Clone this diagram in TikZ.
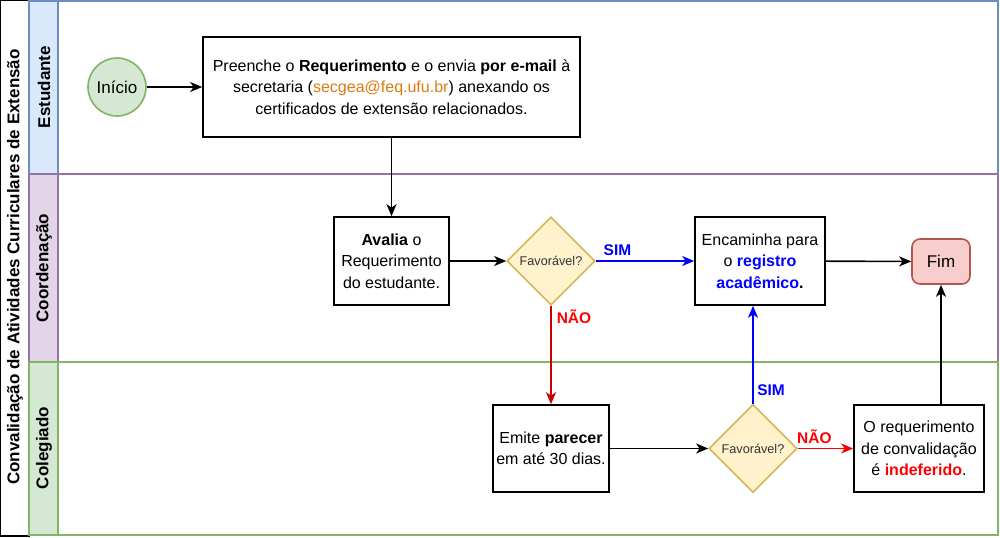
\documentclass[tikz,border=0pt]{standalone}
\usepackage{fontspec}
\setmainfont{Liberation Sans}
\usetikzlibrary{arrows.meta,shapes.geometric}
\definecolor{bluefill}{HTML}{DAE8FC}
\definecolor{bluestroke}{HTML}{6C8EBF}
\definecolor{purplefill}{HTML}{E1D5E7}
\definecolor{purplestroke}{HTML}{9673A6}
\definecolor{greenfill}{HTML}{D5E8D4}
\definecolor{greenstroke}{HTML}{82B366}
\definecolor{redfill}{HTML}{F8CECC}
\definecolor{redstroke}{HTML}{B85450}
\definecolor{yelfill}{HTML}{FFF2CC}
\definecolor{yelstroke}{HTML}{D6B656}
\definecolor{mailorange}{HTML}{E07B12}
\definecolor{darkred}{HTML}{CC0000}
\definecolor{pureblue}{HTML}{0000FF}
\definecolor{purered}{HTML}{FF0000}
\tikzset{
  bodyfont/.style={font=\fontsize{12}{16.1}\selectfont},
  procbox/.style={draw=black, fill=white, line width=1.2pt, align=center, inner sep=2pt, bodyfont},
  decision/.style={diamond, aspect=1, draw=yelstroke, fill=yelfill, line width=1.2pt, inner sep=0pt,
     minimum width=66pt, minimum height=66pt, font=\fontsize{9.5}{11}\selectfont, text=black!80},
  lanehead/.style={line width=1.2pt},
  lanelabel/.style={rotate=90, font=\fontsize{12.75}{15}\selectfont\bfseries},
  conn/.style={line width=1.2pt, -{Stealth[length=9pt, width=7.5pt, inset=2.5pt]}},
  edgelabel/.style={font=\fontsize{11.6}{13}\selectfont\bfseries},
}
\begin{document}
\begin{tikzpicture}[x=0.75pt, y=-0.75pt]
\useasboundingbox (0,0) rectangle (1000,537);
% title column
\draw[line width=1.2pt, fill=white] (0.6,0.6) rectangle (29,536);
\node[lanelabel] (title) at (15,267) {Convalidação de Atividades Curriculares de Extensão};
% lanes
\draw[lanehead, draw=bluestroke, fill=white] (58,1) rectangle (998,174);
\draw[lanehead, draw=bluestroke, fill=bluefill] (29,1) rectangle (58,174);
\draw[lanehead, draw=purplestroke, fill=white] (58,174) rectangle (998,362);
\draw[lanehead, draw=purplestroke, fill=purplefill] (29,174) rectangle (58,362);
\draw[lanehead, draw=greenstroke, fill=white] (58,362) rectangle (998,535);
\draw[lanehead, draw=greenstroke, fill=greenfill] (29,362) rectangle (58,535);
\node[lanelabel] (l1) at (44,87) {Estudante};
\node[lanelabel] (l2) at (44,268) {Coordenação};
\node[lanelabel] (l3) at (44,448) {Colegiado};
% nodes
\node[circle, draw=greenstroke, fill=greenfill, line width=1.2pt, minimum size=43.5pt, inner sep=0pt,
      font=\fontsize{12.75}{15}\selectfont] (inicio) at (117,87) {Início};
\node[procbox, minimum width=282.75pt, minimum height=75pt] (preenche) at (391.5,87)
  {Preenche o \textbf{Requerimento} e o envia \textbf{por e-mail} à\\
   secretaria (\textcolor{mailorange}{secgea@feq.ufu.br}) anexando os\\
   certificados de extensão relacionados.};
\node[procbox, minimum width=86.25pt, minimum height=66pt] (avalia) at (391.5,261)
  {\textbf{Avalia} o\\Requerimento\\do estudante.};
\node[decision] (d1) at (551,261) {Favorável?};
\node[procbox, minimum width=97.5pt, minimum height=66pt] (enc) at (760,261)
  {Encaminha para\\o \textcolor{pureblue}{\textbf{registro}}\\\textcolor{pureblue}{\textbf{acadêmico}}\textbf{.}};
\node[draw=redstroke, fill=redfill, line width=1.2pt, rounded corners=6pt, minimum width=43.5pt,
      minimum height=33.75pt, font=\fontsize{12.75}{15}\selectfont] (fim) at (941,261.5) {Fim};
\node[procbox, minimum width=87pt, minimum height=65.25pt] (emite) at (551,448.5)
  {Emite \textbf{parecer}\\em até 30 dias.};
\node[decision] (d2) at (753,448.5) {Favorável?};
\node[procbox, minimum width=97.5pt, minimum height=65.25pt] (req) at (919,448.5)
  {O requerimento\\de convalidação\\é \textcolor{purered}{\textbf{indeferido}}.};
% connectors
\draw[conn] (inicio) -- (preenche);
\draw[conn] (preenche.south) -- (preenche.south |- avalia.north);
\draw[conn] (avalia) -- (d1);
\draw[conn, pureblue] (d1) -- node[edgelabel, above, pos=0.22] (sim1) {SIM} (enc);
\draw[conn, darkred] (d1) -- (emite);
\node[edgelabel, text=purered] (nao1) at (574,317) {NÃO};
\draw[conn] (emite) -- (d2);
\draw[conn, pureblue] (d2.north) -- (d2.north |- enc.south);
\node[edgelabel, text=pureblue] (sim2) at (771,390) {SIM};
\draw[conn, purered] (d2) -- node[edgelabel, above, pos=0.3] (nao2) {NÃO} (req);
\draw[conn] (fim.south |- req.north) -- (fim.south);
\draw[conn] (enc) -- (fim);
\end{tikzpicture}
\end{document}
